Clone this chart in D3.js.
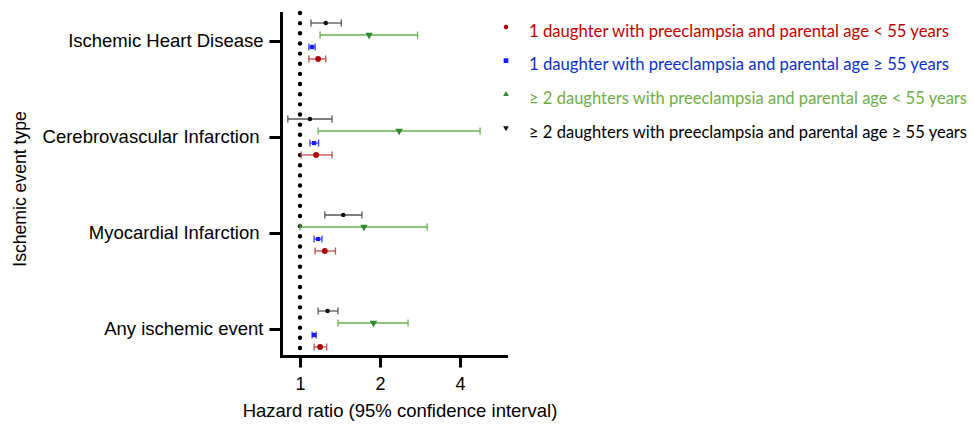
<!DOCTYPE html>
<html><head><meta charset="utf-8">
<script src="https://cdn.jsdelivr.net/npm/d3@7"></script>
<style>body{margin:0;background:#fff}svg{display:block}</style>
</head><body><svg id="c" width="974" height="427"></svg>
<script>
const categories = ["Ischemic Heart Disease","Cerebrovascular Infarction","Myocardial Infarction","Any ischemic event"];
const seriesNames = [
  "1 daughter with preeclampsia and parental age < 55 years",
  "1 daughter with preeclampsia and parental age \u2265 55 years",
  "\u2265 2 daughters with preeclampsia and parental age < 55 years",
  "\u2265 2 daughters with preeclampsia and parental age \u2265 55 years"
];
// hazard ratios [point, lower, upper] per category
const redHR   = [[1.17,1.08,1.25],[1.15,1.01,1.32],[1.24,1.14,1.36],[1.19,1.13,1.26]];
const blueHR  = [[1.11,1.08,1.14],[1.13,1.09,1.175],[1.17,1.13,1.21],[1.13,1.11,1.15]];
const greenHR = [[1.82,1.19,2.77],[2.36,1.17,4.76],[1.74,1.0,3.01],[1.89,1.39,2.55]];
const blackHR = [[1.25,1.10,1.43],[1.09,0.90,1.32],[1.455,1.24,1.71],[1.27,1.17,1.39]];
const xTicks = [1,2,4];

const series = [
  {name:seriesNames[0], data:redHR,   color:"#b00000", bar:"#c0504d", text:"#c00000", sym:d3.symbolCircle, size:26, legSym:d3.symbolCircle, legSize:16, rot:0, legRot:0},
  {name:seriesNames[1], data:blueHR,  color:"#1a1aff", bar:"#3344ff", text:"#0a32c8", sym:d3.symbolSquare, size:18, legSym:d3.symbolSquare, legSize:22, rot:0, legRot:0},
  {name:seriesNames[2], data:greenHR, color:"#2e8b2e", bar:"#6ab04c", text:"#70ad47", sym:d3.symbolTriangle, size:24, legSym:d3.symbolTriangle, legSize:14, rot:180, legRot:0},
  {name:seriesNames[3], data:blackHR, color:"#111", bar:"#555", text:"#000", sym:d3.symbolCircle, size:16, legSym:d3.symbolTriangle, legSize:14, rot:0, legRot:180}
];
// draw order top->bottom within category: black, green, blue, red
const order = [3,2,1,0];

const svg = d3.select("#c");
const font = "Liberation Sans, Arial, sans-serif";

const x = d3.scaleLog().base(2).domain([Math.pow(2,-19/80), Math.pow(2,208/80)]).range([281,508]);
const y = d3.scalePoint().domain(categories).range([41,329]);
const off = d3.scalePoint().domain(order.map(String)).range([-18,18]);

// dotted reference line at HR=1
svg.append("line").attr("x1",x(1)).attr("x2",x(1)).attr("y1",13).attr("y2",357)
  .attr("stroke","#000").attr("stroke-width",4.4).attr("stroke-linecap","round").attr("stroke-dasharray","0 10.15");

// y axis
const yAxis = d3.axisLeft(y).tickSize(12).tickPadding(6).tickSizeOuter(0);
const gy = svg.append("g").attr("transform","translate(281.5,0)").call(yAxis);
gy.select(".domain").attr("d","M0,12V357").attr("stroke","#000").attr("stroke-width",3);
gy.selectAll(".tick line").attr("stroke","#000").attr("stroke-width",3);
gy.selectAll(".tick text").attr("font-family",font).attr("font-size",18.5).attr("fill","#000")
  .attr("dx",(d,i)=> (i===1||i===2) ? -4 : 0);

// x axis
const xAxis = d3.axisBottom(x).tickValues(xTicks).tickFormat(d3.format("d")).tickSize(11).tickPadding(10).tickSizeOuter(0);
const gx = svg.append("g").attr("transform","translate(0,356.5)").call(xAxis);
gx.select(".domain").attr("d","M280,0H508").attr("stroke","#000").attr("stroke-width",3);
gx.selectAll(".tick line").attr("stroke","#000").attr("stroke-width",3);
gx.selectAll(".tick text").attr("font-family",font).attr("font-size",18).attr("fill","#000");

// axis titles
svg.append("text").attr("x",400).attr("y",417).attr("text-anchor","middle")
  .attr("font-family",font).attr("font-size",18.5).text("Hazard ratio (95% confidence interval)");
svg.append("text").attr("transform","translate(26,189) rotate(-90)").attr("text-anchor","middle")
  .attr("font-family",font).attr("font-size",17.6).text("Ischemic event type");

// error bars + markers
const cap = 3.5;
order.forEach(si => {
  const s = series[si];
  const g = svg.append("g");
  s.data.forEach((d,ci) => {
    const yy = y(categories[ci]) + off(String(si));
    g.append("line").attr("x1",x(d[1])).attr("x2",x(d[2])).attr("y1",yy).attr("y2",yy)
      .attr("stroke",s.bar).attr("stroke-width",1.3);
    [d[1],d[2]].forEach(v => g.append("line").attr("x1",x(v)).attr("x2",x(v)).attr("y1",yy-cap).attr("y2",yy+cap)
      .attr("stroke",s.bar).attr("stroke-width",1.3));
    g.append("path").attr("d",d3.symbol().type(s.sym).size(s.size)())
      .attr("transform",`translate(${x(d[0])},${yy}) rotate(${s.rot})`).attr("fill",s.color);
  });
});

// legend
const legY = d3.scalePoint().domain(series.map(s=>s.name)).range([31,132]);
series.forEach(s => {
  const yy = legY(s.name);
  svg.append("path").attr("d",d3.symbol().type(s.legSym).size(s.legSize)())
    .attr("transform",`translate(506,${yy-4}) rotate(${s.legRot})`).attr("fill",s.color);
  const w = s.name.startsWith("\u2265") ? 438 : 420;
  svg.append("text").attr("x",529).attr("y",yy+5.5).attr("font-family","Lato, 'Open Sans', sans-serif")
    .attr("font-size",16.5).attr("fill",s.text).attr("textLength",w).attr("lengthAdjust","spacingAndGlyphs").text(s.name);
});
</script></body></html>
